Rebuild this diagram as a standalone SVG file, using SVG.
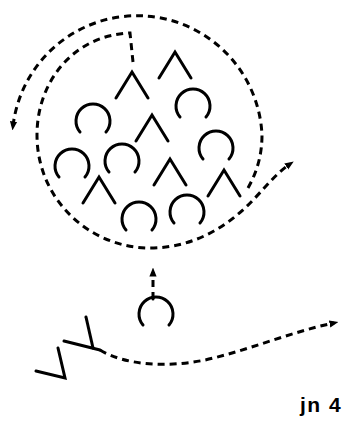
<svg xmlns="http://www.w3.org/2000/svg" xmlns:xlink="http://www.w3.org/1999/xlink" width="347" height="421" viewBox="0 0 347 421">
<style>
.g{fill:none;stroke:#000;stroke-width:3;stroke-linecap:round;stroke-linejoin:miter}
.d{fill:none;stroke:#000;stroke-width:3;stroke-dasharray:7 5}
.t{font-family:"Liberation Sans",Arial,sans-serif;font-weight:bold;font-size:21px;letter-spacing:1.5px;fill:#000}
</style>
<defs>
<marker id="ah" viewBox="0 0 10 10" refX="5" refY="5" markerWidth="9" markerHeight="9" markerUnits="userSpaceOnUse" orient="auto">
<path d="M0,1 L10,5 L0,9 z" fill="#000"/>
</marker>
<path id="cap" class="g" d="M-13,11 A17,17 0 1 1 13,11"/>
<path id="hat" class="g" d="M-16,26 L0,0 L16,26"/>
</defs>
<g id="connectors">
<path class="d" d="M248,188 C257,172 262,155 262,135 A125,125 0 0 0 13,126" marker-end="url(#ah)"/>
<path class="d" d="M133,62 L130,33 C75,35 37,80 37,135 C37,200 90,248 150,248 C195,248 230,225 255,198 C268,184 278,172 290,164" marker-end="url(#ah)"/>
<path class="d" d="M153,299 L153,272" marker-end="url(#ah)"/>
<path class="d" d="M100,350 C125,365 165,368 205,360 C250,350 290,332 334,323" marker-end="url(#ah)"/>
</g>
<g id="hat1"><use xlink:href="#hat" x="132" y="72"/></g>
<g id="hat2"><use xlink:href="#hat" x="175" y="52"/></g>
<g id="hat3"><use xlink:href="#hat" x="152" y="115"/></g>
<g id="hat4"><use xlink:href="#hat" x="170" y="159"/></g>
<g id="hat5"><use xlink:href="#hat" x="224" y="170"/></g>
<g id="hat6"><use xlink:href="#hat" x="99" y="177"/></g>
<g id="cap1"><use xlink:href="#cap" x="93" y="121"/></g>
<g id="cap2"><use xlink:href="#cap" x="193" y="106"/></g>
<g id="cap3"><use xlink:href="#cap" x="216" y="148"/></g>
<g id="cap4"><use xlink:href="#cap" x="72" y="166"/></g>
<g id="cap5"><use xlink:href="#cap" x="122" y="161"/></g>
<g id="cap6"><use xlink:href="#cap" x="139" y="219"/></g>
<g id="cap7"><use xlink:href="#cap" x="187" y="212"/></g>
<g id="cap8"><use xlink:href="#cap" x="156" y="314"/><path class="g" d="M153,299 L153,297"/></g>
<g id="vy">
<path class="g" d="M36,371 L65,378 L58,348"/>
<path class="g" d="M64,341 L100,350"/>
<path class="g" d="M86,317 L93,348"/>
</g>
<g id="label"><text class="t" x="300" y="412">jn 4</text></g>
</svg>
